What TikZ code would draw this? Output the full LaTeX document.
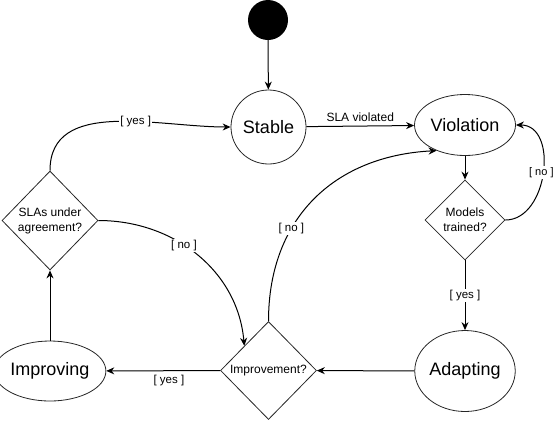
\documentclass[tikz,border=0pt]{standalone}
\usepackage{fontspec}
\setmainfont{Liberation Sans}
\usetikzlibrary{shapes.geometric,arrows.meta}
\begin{document}
\begin{tikzpicture}[x=1pt, y=1pt, >={Stealth[length=8pt,width=7pt]}, state/.style={draw=black!85, line width=0.8pt, ellipse, inner sep=0pt, font=\fontsize{18}{20}\selectfont}, decision/.style={draw=black!85, line width=0.8pt, diamond, inner sep=0pt, align=center, font=\fontsize{12}{15}\selectfont}, lbl/.style={fill=white, inner sep=1pt, font=\fontsize{11.5}{13}\selectfont}]
	\useasboundingbox (0,0) rectangle (556,-421);
	\node[circle, fill=black, minimum size=40pt, inner sep=0pt] (B) at (268,-20) {};
	\node[state, minimum width=75pt, minimum height=74pt] (S) at (268.5,-127) {Stable};
	\node[state, minimum width=101pt, minimum height=61pt] (V) at (465,-125) {Violation};
	\node[decision, minimum width=80pt, minimum height=80pt] (M) at (465,-220) {Models\\trained?};
	\node[state, minimum width=84pt, minimum height=81pt] (A) at (465,-371) {Adapting};
	\node[decision, minimum width=96pt, minimum height=98pt] (E) at (268.5,-370.5) {Improvement?};
	\node[state, minimum width=100pt, minimum height=60pt] (I) at (50,-371) {Improving};
	\node[decision, minimum width=96pt, minimum height=99pt] (Q) at (50,-220.5) {SLAs under\\agreement?};
	\begin{scope}[line width=1pt]
	\draw[->] (B) -- (S);
	\draw[->] (S) -- node[above=1pt, font=\fontsize{12}{14}\selectfont] {SLA violated} (V);
	\draw[->] (V) -- (M);
	\draw[->] (M.east) to[out=0, in=0, looseness=1.15] node[lbl, pos=0.5, xshift=-1.5pt, font=\fontsize{11}{13}\selectfont] {[ no ]} (V.east);
	\draw[->] (M) -- node[lbl] {[ yes ]} (A);
	\draw[->] (A) -- (E);
	\draw[->] (E) -- node[lbl, below=3pt, pos=0.45] {[ yes ]} (I);
	\draw[->] (E.north) to[out=90, in=183, looseness=1.1] node[lbl, pos=0.35] {[ no ]} (V.222);
	\draw[->] (I) -- (Q);
	\draw[->] (Q.north) to[out=90, in=180] node[lbl, pos=0.6] {[ yes ]} (S.west);
	\draw[->] (Q.east) to[out=0, in=95] node[lbl, pos=0.42] {[ no ]} (E.north west);
	\end{scope}
\end{tikzpicture}
\end{document}
